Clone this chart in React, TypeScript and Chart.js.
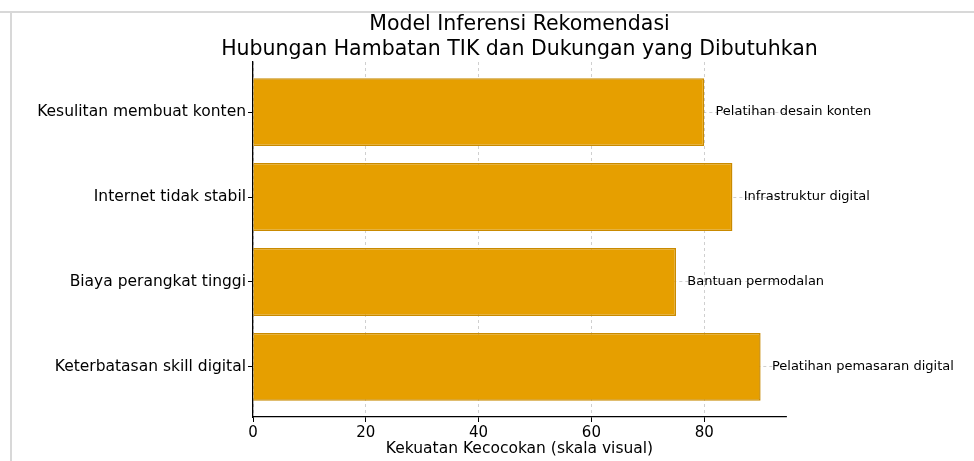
import React, { useEffect, useRef } from "react";
import { Chart, registerables } from "chart.js";

Chart.register(...registerables);

const categories = [
  "Kesulitan membuat konten",
  "Internet tidak stabil",
  "Biaya perangkat tinggi",
  "Keterbatasan skill digital",
];
const strengths = [80, 85, 75, 90];
const recommendations = [
  "Pelatihan desain konten",
  "Infrastruktur digital",
  "Bantuan permodalan",
  "Pelatihan pemasaran digital",
];
const xTicks = [0, 20, 40, 60, 80];
const titleLines = [
  "Model Inferensi Rekomendasi",
  "Hubungan Hambatan TIK dan Dukungan yang Dibutuhkan",
];
const xTitle = "Kekuatan Kecocokan (skala visual)";

const FONT = "'DejaVu Sans', sans-serif";

export default function App() {
  const ref = useRef<HTMLCanvasElement>(null);

  useEffect(() => {
    const canvas = ref.current!;
    const framePlugin = {
      id: "frame",
      beforeDraw(chart: any) {
        const ctx = chart.ctx;
        ctx.save();
        ctx.fillStyle = "#ffffff";
        ctx.fillRect(0, 0, chart.width, chart.height);
        ctx.strokeStyle = "#d8d8d8";
        ctx.lineWidth = 2;
        ctx.beginPath();
        ctx.moveTo(0, 12);
        ctx.lineTo(chart.width, 12);
        ctx.moveTo(11, 12);
        ctx.lineTo(11, chart.height);
        ctx.stroke();
        ctx.restore();
      },
      afterDraw(chart: any) {
        const ctx = chart.ctx;
        const xs = chart.scales.x;
        const ys = chart.scales.y;
        ctx.save();
        const cx = (chart.chartArea.left + chart.chartArea.right) / 2;
        ctx.fillStyle = "#000";
        ctx.textAlign = "center";
        ctx.textBaseline = "alphabetic";
        ctx.font = `20.5px ${FONT}`;
        ctx.fillText(titleLines[0], cx, 30);
        ctx.fillText(titleLines[1], cx, 55);
        ctx.font = `13px ${FONT}`;
        ctx.textAlign = "left";
        ctx.textBaseline = "middle";
        strengths.forEach((v, i) => {
          ctx.fillText(recommendations[i], xs.getPixelForValue(v + 2), ys.getPixelForValue(i));
        });
        ctx.restore();
      },
    };

    const gridOpts = {
      color: "rgba(170,170,170,0.7)",
      lineWidth: 0.8,
      tickLength: 5,
      tickColor: "#000",
      tickWidth: 1,
      tickBorderDash: [],
      offset: false,
    };

    const chart = new Chart(canvas, {
      type: "bar",
      data: {
        datasets: [
          {
            data: strengths.map((v, i) => ({ x: v, y: i })),
            backgroundColor: "#e69f00",
            borderColor: "#c98a00",
            borderWidth: 1.5,
            categoryPercentage: 1,
            barPercentage: 0.8,
          },
        ],
      },
      options: {
        indexAxis: "y",
        responsive: false,
        animation: false,
        events: [],
        layout: { padding: { top: 62, right: 188, left: 0, bottom: 0 } },
        plugins: {
          legend: { display: false },
          tooltip: { enabled: false },
          title: { display: false },
        },
        scales: {
          x: {
            type: "linear",
            min: 0,
            max: 94.5,
            z: 1,
            offset: false,
            afterBuildTicks: (axis: any) => {
              axis.ticks = xTicks.map((v) => ({ value: v }));
            },
            afterFit: (scale: any) => {
              scale.height = 44;
            },
            ticks: {
              color: "#000",
              font: { family: FONT, size: 15 },
              padding: 2,
              maxRotation: 0,
            },
            grid: gridOpts,
            border: { display: true, color: "#000", width: 1.3, dash: [3, 3] },
            title: {
              display: true,
              text: xTitle,
              color: "#000",
              font: { family: FONT, size: 15.5 },
              padding: { top: 3, bottom: 3 },
            },
          },
          y: {
            type: "linear",
            min: -0.59,
            max: 3.59,
            reverse: true,
            z: 1,
            offset: false,
            afterBuildTicks: (axis: any) => {
              axis.ticks = categories.map((_, i) => ({ value: i }));
            },
            afterFit: (scale: any) => {
              scale.width = 253;
            },
            ticks: {
              color: "#000",
              font: { family: FONT, size: 15.5 },
              padding: 2,
              callback: (v: any) => categories[Math.round(Number(v))] ?? "",
            },
            grid: gridOpts,
            border: { display: true, color: "#000", width: 1.3, dash: [3, 3] },
          },
        },
      },
      plugins: [framePlugin],
    } as any);
    return () => chart.destroy();
  }, []);

  return (
    <div style={{ position: "absolute", left: 0, top: 0, width: 974, height: 461, background: "#fff" }}>
      <canvas ref={ref} width={974} height={461} style={{ display: "block" }} />
    </div>
  );
}
